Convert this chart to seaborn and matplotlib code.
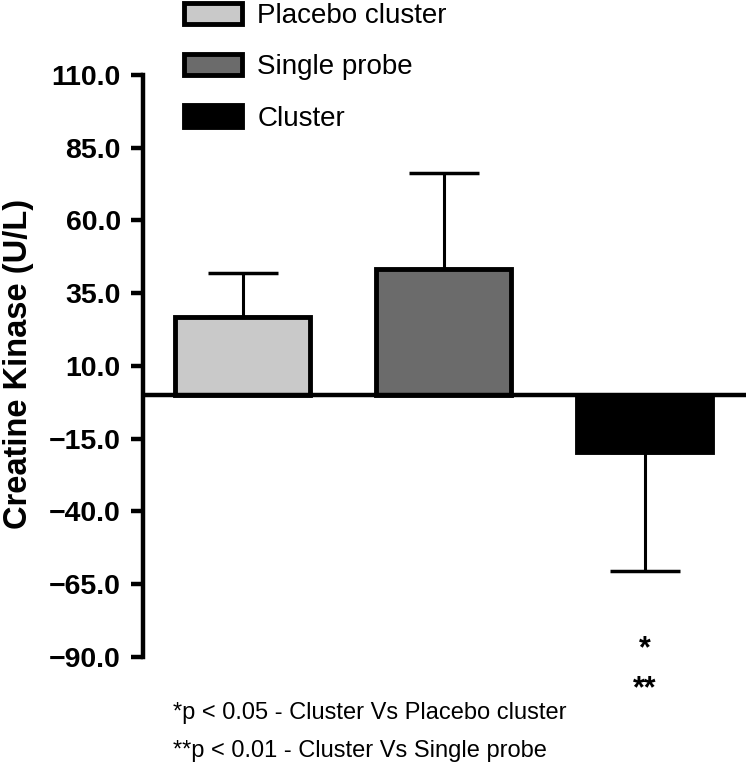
import matplotlib
matplotlib.use('Agg')
import matplotlib.pyplot as plt
import pandas as pd
import seaborn as sns

groups = ['Placebo cluster', 'Single probe', 'Cluster']
means = [26.7, 43.4, -19.6]
sds = [15.4, 32.8, 40.9]
colors = ['#c9c9c9', '#6b6b6b', '#000000']
yticks = [110, 85, 60, 35, 10, -15, -40, -65, -90]
notes = ['*p < 0.05 - Cluster Vs Placebo cluster',
         '**p < 0.01 - Cluster Vs Single probe']

sns.set_style('white')
plt.rcParams['font.family'] = ['Liberation Sans', 'DejaVu Sans']
plt.rcParams['text.color'] = 'black'
plt.rcParams['axes.labelcolor'] = 'black'
plt.rcParams['ytick.color'] = 'black'

df = pd.DataFrame({'grupo': groups, 'media': means, 'dp': sds})
# erro só para fora da barra (para cima se positivo, para baixo se negativo)
df['err_baixo'] = df['dp'].where(df['media'] < 0, 0)
df['err_cima'] = df['dp'].where(df['media'] >= 0, 0)

fig = plt.figure(figsize=(7.5, 7.76), dpi=100)
ax = fig.add_axes([0.1907, 0.1534, 0.804, 0.75])

sns.barplot(data=df, x='grupo', y='media', hue='grupo', palette=colors,
            width=0.67, edgecolor='black', linewidth=3.5, errorbar=None,
            legend=True, ax=ax, zorder=3)

ax.errorbar(range(len(groups)), df['media'],
            yerr=[df['err_baixo'], df['err_cima']], fmt='none',
            ecolor='black', elinewidth=2.2, capsize=25, capthick=2.5,
            zorder=2)

ax.axhline(0, color='black', lw=3.2, zorder=4)

ax.set_ylim(-90, 110)
ax.set_xlim(-0.495, 2.505)
ax.set_yticks(yticks)
ax.set_yticklabels([f'{v:.1f}'.replace('-', '\u2212') for v in yticks],
                   fontsize=20.5, fontweight='bold')
ax.tick_params(axis='y', length=9, width=3.2, pad=7, left=True)
ax.set_xticks([])
ax.set_xlabel('')
ax.set_ylabel('Creatine Kinase (U/L)', fontsize=23.5, fontweight='bold')
ax.yaxis.set_label_coords(-0.181, 0.504)

for s in ['top', 'right', 'bottom']:
  ax.spines[s].set_visible(False)
ax.spines['left'].set_linewidth(3.2)
ax.spines['left'].set_color('black')

ax.text(2, -87.5, '*', ha='center', va='center', fontsize=22,
        fontweight='bold', clip_on=False)
ax.text(2, -101, '**', ha='center', va='center', fontsize=22,
        fontweight='bold', clip_on=False)

sns.move_legend(ax, 'upper left', bbox_to_anchor=(0.241, 1.0),
                bbox_transform=fig.transFigure, frameon=False, title=None,
                fontsize=20, handlelength=2.1, handleheight=0.8,
                handletextpad=0.55, labelspacing=0.9, borderpad=0.1,
                borderaxespad=0)

fig.text(0.231, 1 - 713 / 776, notes[0], fontsize=17, va='center')
fig.text(0.231, 1 - 751 / 776, notes[1], fontsize=17, va='center')

fig.savefig('out.png', dpi=100)
